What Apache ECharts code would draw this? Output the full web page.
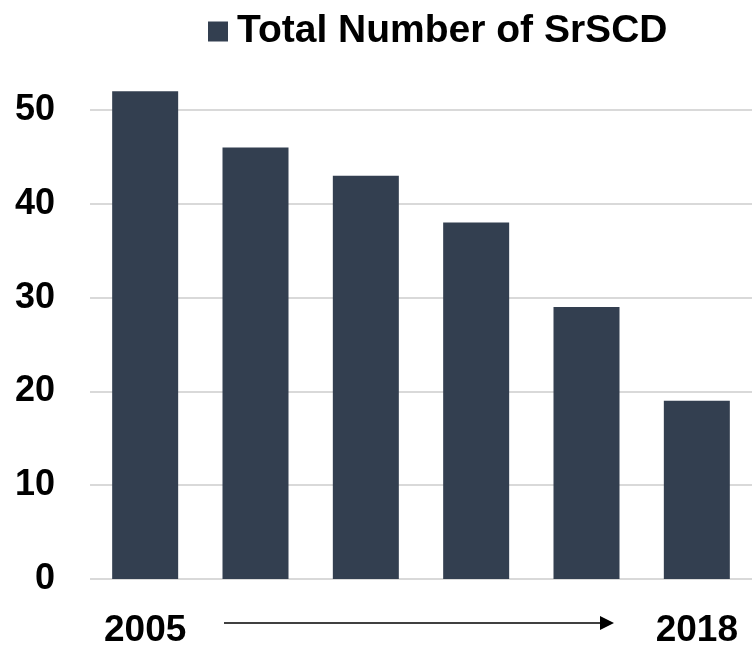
<!DOCTYPE html>
<html>
<head>
<meta charset="utf-8">
<script src="https://cdn.jsdelivr.net/npm/echarts@6/dist/echarts.min.js"></script>
<style>
  html, body { margin: 0; padding: 0; background: #ffffff; }
  #chart { width: 752px; height: 649px; }
</style>
</head>
<body>
<div id="chart"></div>
<script>
// Periods along the horizontal axis; only the first and last carry a year label
const periods = ['2005', 'p2', 'p3', 'p4', 'p5', '2018'];
const tickLabels = ['2005', '', '', '', '', '2018'];
// Total number of SrSCD per period
const seriesName = 'Total Number of SrSCD';
const totals = [52, 46, 43, 38, 29, 19];
// Value axis ticks
const yTicks = [0, 10, 20, 30, 40, 50];

const FONT = "'Liberation Sans Narrow', 'Arial Narrow', 'Liberation Sans', Arial, sans-serif";
const BAR_COLOR = '#333f50';

const chart = echarts.init(document.getElementById('chart'), null, { renderer: 'canvas' });

chart.setOption({
  backgroundColor: '#ffffff',
  animation: false,
  textStyle: { fontFamily: FONT },
  legend: {
    data: [seriesName],
    left: 203,
    top: 7,
    icon: 'rect',
    itemWidth: 20,
    itemHeight: 20,
    textStyle: {
      fontFamily: FONT,
      fontWeight: 'bold',
      fontSize: 39,
      color: '#000000',
      padding: [0, 0, 0, 4]
    }
  },
  grid: {
    left: 90,
    top: 110,
    width: 666,
    height: 469,
    containLabel: false
  },
  xAxis: {
    type: 'category',
    data: periods,
    axisLine: { show: false },
    axisTick: { show: false },
    axisLabel: {
      margin: 33,
      fontFamily: FONT,
      fontWeight: 'bold',
      fontSize: 37,
      color: '#000000',
      interval: 0,
      formatter: (value, index) => tickLabels[index]
    }
  },
  yAxis: {
    type: 'value',
    min: yTicks[0],
    max: yTicks[yTicks.length - 1],
    interval: yTicks[1] - yTicks[0],
    axisLine: { show: false },
    axisTick: { show: false },
    axisLabel: {
      margin: 35,
      fontFamily: FONT,
      fontWeight: 'bold',
      fontSize: 36,
      color: '#000000'
    },
    splitLine: { lineStyle: { color: '#d9d9d9', width: 2 } }
  },
  series: [{
    name: seriesName,
    type: 'bar',
    data: totals,
    barWidth: 66,
    clip: false,
    itemStyle: { color: BAR_COLOR }
  }],
  // Timeline arrow between the first and last year labels
  graphic: [{
    type: 'group',
    silent: true,
    children: [
      {
        type: 'line',
        shape: { x1: 224, y1: 623, x2: 602, y2: 623 },
        style: { stroke: '#000000', lineWidth: 1.5 }
      },
      {
        type: 'polygon',
        shape: { points: [[600, 616], [614, 623], [600, 630]] },
        style: { fill: '#000000' }
      }
    ]
  }]
});
</script>
</body>
</html>
